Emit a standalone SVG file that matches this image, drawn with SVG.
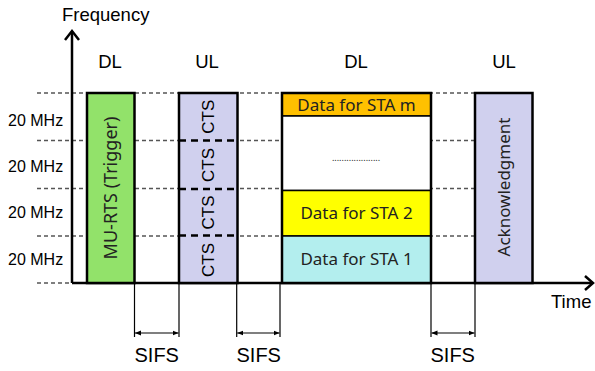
<svg xmlns="http://www.w3.org/2000/svg" width="595" height="371" viewBox="0 0 595 371">
<defs>
<style>
.ar{font-family:"Liberation Sans",Arial,sans-serif;fill:#000}
.lab{font-size:18.5px}
.mhz{font-size:16px}
.ns{font-family:"Noto Sans","Open Sans",sans-serif;fill:#222}
.grid{stroke:#555;stroke-width:1.3;stroke-dasharray:4 3;fill:none}
.box{stroke:#000;stroke-width:2.5}
.sep{stroke:#000;stroke-width:2.5;stroke-dasharray:7 5}
.thin{stroke:#000;stroke-width:1.2;fill:none}
</style>
<marker id="ah" viewBox="0 0 10 10" refX="10" refY="5" markerWidth="6" markerHeight="6" orient="auto-start-reverse" markerUnits="userSpaceOnUse">
<path d="M0,1 L10,5 L0,9 Z" fill="#000"/>
</marker>
</defs>
<rect width="595" height="371" fill="#fff"/>

<g id="grid">
<line class="grid" x1="37" y1="93" x2="475" y2="93"/>
<line class="grid" x1="37" y1="140.5" x2="475" y2="140.5"/>
<line class="grid" x1="37" y1="188.5" x2="475" y2="188.5"/>
<line class="grid" x1="37" y1="236" x2="475" y2="236"/>
<line class="grid" x1="37" y1="283" x2="72" y2="283"/>
</g>

<g id="axes">
<line x1="72" y1="283" x2="72" y2="32" stroke="#000" stroke-width="2.5"/>
<path d="M65,40 L72,31 L79,40" fill="none" stroke="#000" stroke-width="2.5"/>
<line x1="72" y1="283" x2="592" y2="283" stroke="#000" stroke-width="2.5"/>
<path d="M585,276 L593,283 L585,290" fill="none" stroke="#000" stroke-width="2.5"/>
<text class="ar lab" x="62" y="21">Frequency</text>
<text class="ar lab" x="551" y="308">Time</text>
<text class="ar mhz" x="8" y="126">20 MHz</text>
<text class="ar mhz" x="8" y="172">20 MHz</text>
<text class="ar mhz" x="8" y="218">20 MHz</text>
<text class="ar mhz" x="8" y="265">20 MHz</text>
<text class="ar lab" x="110" y="68" text-anchor="middle">DL</text>
<text class="ar lab" x="207" y="68" text-anchor="middle">UL</text>
<text class="ar lab" x="356" y="68" text-anchor="middle">DL</text>
<text class="ar lab" x="504" y="68" text-anchor="middle">UL</text>
</g>

<g id="mu-rts">
<rect class="box" x="87" y="93" width="47.5" height="190" fill="#92e26a"/>
<text class="ns" font-size="18" transform="translate(116.5,188) rotate(-90)" text-anchor="middle" fill="#2a3a2a">MU-RTS (Trigger)</text>
</g>

<g id="cts">
<rect class="box" x="179" y="93" width="58.5" height="190" fill="#d0d0ee"/>
<line class="sep" x1="179" y1="140.5" x2="237.5" y2="140.5"/>
<line class="sep" x1="179" y1="189" x2="237.5" y2="189"/>
<line class="sep" x1="179" y1="235.5" x2="237.5" y2="235.5"/>
<g class="ar" font-size="17" text-anchor="middle">
<text transform="translate(214,116.7) rotate(-90)">CTS</text>
<text transform="translate(214,165) rotate(-90)">CTS</text>
<text transform="translate(214,212.5) rotate(-90)">CTS</text>
<text transform="translate(214,260) rotate(-90)">CTS</text>
</g>
</g>

<g id="data">
<rect x="282" y="93" width="149" height="23" fill="#ffc000" stroke="#000" stroke-width="1.5"/>
<rect x="282" y="116" width="149" height="74.5" fill="#fff" stroke="#000" stroke-width="1.5"/>
<rect x="282" y="190.5" width="149" height="45.5" fill="#ffff00" stroke="#000" stroke-width="1.5"/>
<rect x="282" y="236" width="149" height="47" fill="#b3eeee" stroke="#000" stroke-width="1.5"/>
<rect x="282" y="93" width="149" height="190" fill="none" class="box"/>
<g class="ns" font-size="17" text-anchor="middle">
<text x="356.5" y="110.5">Data for STA m</text>
<text x="356.5" y="219">Data for STA 2</text>
<text x="356.5" y="265">Data for STA 1</text>
</g>
<text class="ns" font-size="9" x="356" y="161" text-anchor="middle" fill="#444">....................</text>
</g>

<g id="ack">
<rect class="box" x="475" y="93" width="57.5" height="190" fill="#d0d0ee"/>
<text class="ns" font-size="17" transform="translate(510,187) rotate(-90)" text-anchor="middle" fill="#333">Acknowledgment</text>
</g>

<g id="connectors">
<line class="thin" x1="134.5" y1="283" x2="134.5" y2="337"/>
<line class="thin" x1="179" y1="283" x2="179" y2="337"/>
<line class="thin" x1="236.7" y1="283" x2="236.7" y2="337"/>
<line class="thin" x1="280" y1="283" x2="280" y2="337"/>
<line class="thin" x1="431" y1="283" x2="431" y2="337"/>
<line class="thin" x1="475" y1="283" x2="475" y2="337"/>
<line class="thin" x1="135" y1="333" x2="178.5" y2="333" marker-start="url(#ah)" marker-end="url(#ah)"/>
<line class="thin" x1="237.2" y1="333" x2="279.5" y2="333" marker-start="url(#ah)" marker-end="url(#ah)"/>
<line class="thin" x1="431.5" y1="333" x2="474.5" y2="333" marker-start="url(#ah)" marker-end="url(#ah)"/>
</g>

<g id="sifs" class="ar" font-size="20">
<text x="134.5" y="362">SIFS</text>
<text x="236.5" y="362">SIFS</text>
<text x="430.5" y="362">SIFS</text>
</g>
</svg>
